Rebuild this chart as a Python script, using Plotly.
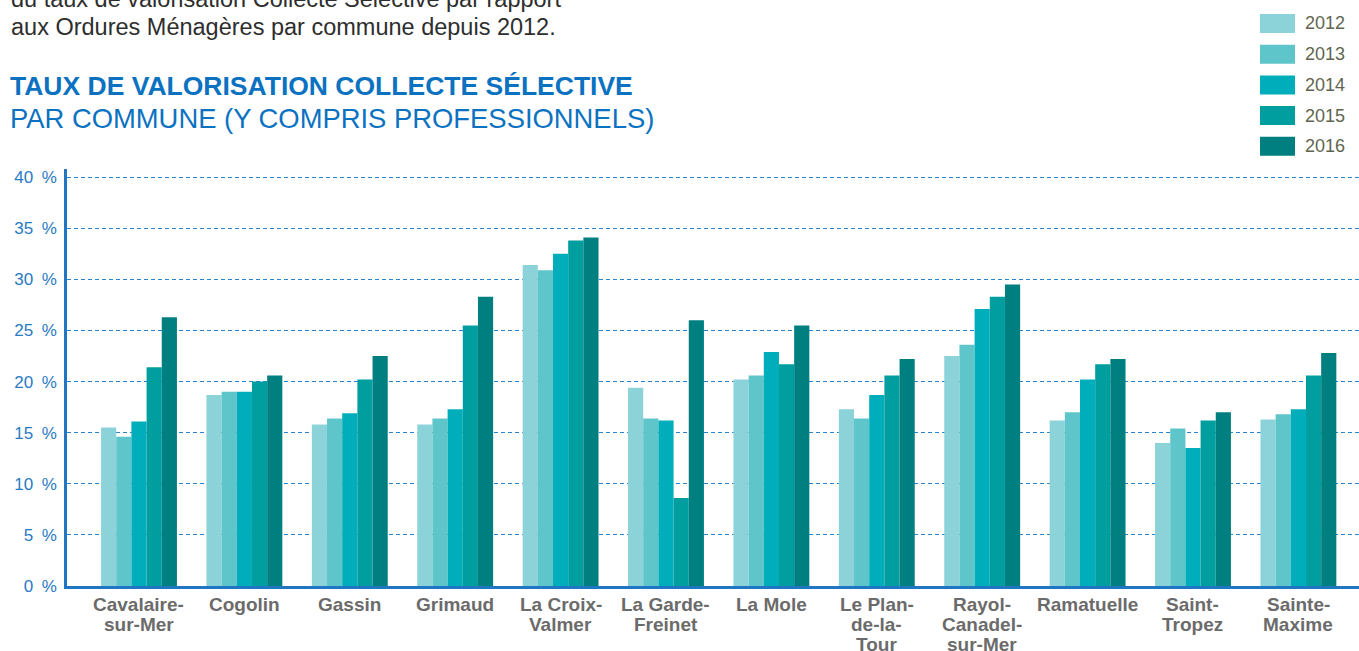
import plotly.graph_objects as go

# Communes and their display labels (hyphenated names broken over lines)
communes = ["Cavalaire-sur-Mer", "Cogolin", "Gassin", "Grimaud", "La Croix-Valmer",
            "La Garde-Freinet", "La Mole", "Le Plan-de-la-Tour", "Rayol-Canadel-sur-Mer",
            "Ramatuelle", "Saint-Tropez", "Sainte-Maxime"]
commune_labels = ["Cavalaire-<br>sur-Mer", "Cogolin", "Gassin", "Grimaud", "La Croix-<br>Valmer",
                  "La Garde-<br>Freinet", "La Mole", "Le Plan-<br>de-la-<br>Tour",
                  "Rayol-<br>Canadel-<br>sur-Mer", "Ramatuelle", "Saint-<br>Tropez",
                  "Sainte-<br>Maxime"]

years = ["2012", "2013", "2014", "2015", "2016"]

# Taux de valorisation collecte sélective (%) par commune
taux_2012 = [15.5, 18.7, 15.8, 15.8, 31.4, 19.4, 20.2, 17.3, 22.5, 16.2, 14.0, 16.3]
taux_2013 = [14.6, 19.0, 16.4, 16.4, 30.9, 16.4, 20.6, 16.4, 23.6, 17.0, 15.4, 16.8]
taux_2014 = [16.1, 19.0, 16.9, 17.3, 32.5, 16.2, 22.9, 18.7, 27.1, 20.2, 13.5, 17.3]
taux_2015 = [21.4, 20.0, 20.2, 25.5, 33.8, 8.6, 21.7, 20.6, 28.3, 21.7, 16.2, 20.6]
taux_2016 = [26.3, 20.6, 22.5, 28.3, 34.1, 26.0, 25.5, 22.2, 29.5, 22.2, 17.0, 22.8]
series = [taux_2012, taux_2013, taux_2014, taux_2015, taux_2016]

y_ticks = [0, 5, 10, 15, 20, 25, 30, 35, 40]
y_tick_text = [f"{v}\u2002%" for v in y_ticks]

colors = ["#8cd3d9", "#5ec6ca", "#00aebb", "#009e9f", "#007f81"]

FONT = "Liberation Sans, Arial, sans-serif"
BLUE = "#0b72c1"
AXIS_BLUE = "#1f77c4"

# Figure geometry (pixels) used to place the free text and the legend swatches
FIG_W, FIG_H = 1359, 651
L, R, T, B = 67, 0, 169, 65
PW, PH = FIG_W - L - R, FIG_H - T - B
PLOT_BOTTOM = FIG_H - B


def px_x(px):
    return (px - L) / PW


def px_y(py):
    return (PLOT_BOTTOM - py) / PH


fig = go.Figure()
for year, vals, col in zip(years, series, colors):
    fig.add_trace(go.Bar(x=communes, y=vals, name=year, marker=dict(color=col, line=dict(width=0)),
                         showlegend=False))

annotations = []

# Intro text and chart title
annotations.append(dict(text="du taux de valorisation Collecte Sélective par rapport",
                        x=px_x(9), y=px_y(-1), xref="paper", yref="paper",
                        xanchor="left", yanchor="middle", showarrow=False,
                        font=dict(family=FONT, size=23.5, color="#2e2e2e")))
annotations.append(dict(text="aux Ordures Ménagères par commune depuis 2012.",
                        x=px_x(9), y=px_y(27), xref="paper", yref="paper",
                        xanchor="left", yanchor="middle", showarrow=False,
                        font=dict(family=FONT, size=23.5, color="#2e2e2e")))
annotations.append(dict(text="<b>TAUX DE VALORISATION COLLECTE SÉLECTIVE</b>",
                        x=px_x(8), y=px_y(86), xref="paper", yref="paper",
                        xanchor="left", yanchor="middle", showarrow=False,
                        font=dict(family=FONT, size=26.5, color=BLUE)))
annotations.append(dict(text="PAR COMMUNE (Y COMPRIS PROFESSIONNELS)",
                        x=px_x(8), y=px_y(118), xref="paper", yref="paper",
                        xanchor="left", yanchor="middle", showarrow=False,
                        font=dict(family=FONT, size=27.4, color=BLUE)))

# Category labels, one annotation per line for tight leading
for name, label in zip(communes, commune_labels):
    for i, line in enumerate(label.split("<br>")):
        annotations.append(dict(text=f"<b>{line}</b>", x=name, xref="x", y=0, yref="paper",
                                yshift=-(18 + 20 * i), xanchor="center", yanchor="middle",
                                showarrow=False,
                                font=dict(family=FONT, size=19, color="#6b6b6b")))

# Legend: swatches and year labels
shapes = []
for i, (year, col) in enumerate(zip(years, colors)):
    cy = 23.5 + 30.7 * i
    shapes.append(dict(type="rect", xref="paper", yref="paper",
                       x0=px_x(1260), x1=px_x(1295), y0=px_y(cy + 9.5), y1=px_y(cy - 9.5),
                       fillcolor=col, line=dict(width=0), layer="above"))
    annotations.append(dict(text=year, x=px_x(1303), y=px_y(cy), xref="paper", yref="paper",
                            xanchor="left", yanchor="middle", showarrow=False,
                            font=dict(family=FONT, size=18, color="#61654f")))

fig.update_layout(
    width=FIG_W, height=FIG_H,
    margin=dict(l=L, r=R, t=T, b=B, pad=0),
    paper_bgcolor="white", plot_bgcolor="white",
    barmode="group", bargap=0.28, bargroupgap=0,
    annotations=annotations, shapes=shapes,
    showlegend=False,
    xaxis=dict(type="category", range=[-0.683, 11.575], showticklabels=False,
               showgrid=False, zeroline=False, ticks="",
               showline=True, linecolor=AXIS_BLUE, linewidth=2.5),
    yaxis=dict(range=[0, 40.8], tickvals=y_ticks, ticktext=y_tick_text,
               tickfont=dict(family=FONT, size=17, color="#2a7ac3"),
               ticks="", ticklabelstandoff=4,
               showgrid=True, gridcolor="#2a83d0", gridwidth=1, griddash="4px,3px",
               zeroline=False, showline=True, linecolor=AXIS_BLUE, linewidth=2.5),
)

fig.write_html("out.html")
